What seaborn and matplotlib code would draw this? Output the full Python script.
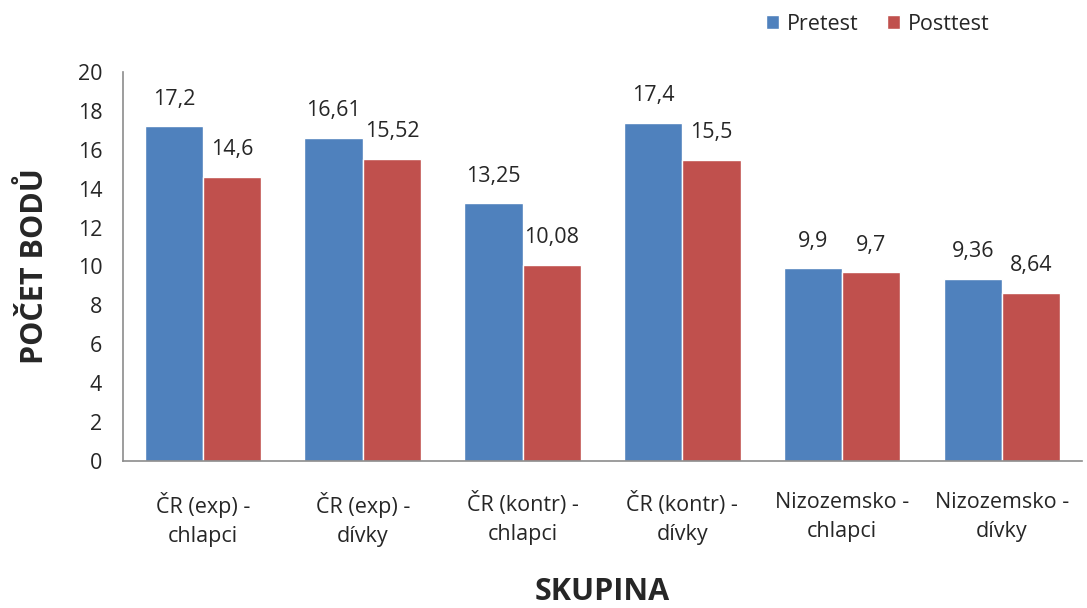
import matplotlib
matplotlib.use("Agg")
import matplotlib.pyplot as plt
import seaborn as sns
import pandas as pd

categories = ["ČR (exp) -\nchlapci", "ČR (exp) -\ndívky", "ČR (kontr) -\nchlapci",
              "ČR (kontr) -\ndívky", "Nizozemsko -\nchlapci", "Nizozemsko -\ndívky"]
pretest = [17.2, 16.61, 13.25, 17.4, 9.9, 9.36]
posttest = [14.6, 15.52, 10.08, 15.5, 9.7, 8.64]
series = ["Pretest", "Posttest"]
yticks = [0, 2, 4, 6, 8, 10, 12, 14, 16, 18, 20]

df = pd.DataFrame({
    "skupina": categories * 2,
    "test": [series[0]] * len(categories) + [series[1]] * len(categories),
    "body": pretest + posttest,
})

sns.set_theme(style="white")
plt.rcParams["font.family"] = ["Open Sans", "DejaVu Sans"]

fig = plt.figure(figsize=(10.87, 6.08), dpi=100)
ax = fig.add_axes([0.1132, 0.2418, 0.882, 0.6398])

palette = {"Pretest": "#4F81BD", "Posttest": "#C0504D"}
sns.barplot(data=df, x="skupina", y="body", hue="test", palette=palette,
            width=0.73, edgecolor="white", linewidth=1.0, ax=ax, saturation=1)

ax.set_ylim(0, 20)
ax.set_xlim(-0.5, len(categories) - 0.5)
ax.set_yticks(yticks)
ax.set_yticklabels([str(t) for t in yticks], fontsize=15.5)
ax.set_xticks(range(len(categories)))
ax.set_xticklabels(categories, fontsize=15.5, linespacing=1.5)
ax.tick_params(axis="x", length=0, pad=22)
ax.tick_params(axis="y", length=0, pad=15)

for side in ["top", "right"]:
    ax.spines[side].set_visible(False)
for side in ["left", "bottom"]:
    ax.spines[side].set_color("#8C8C8C")
    ax.spines[side].set_linewidth(1.2)

for container in ax.containers:
    labels = [f"{v:g}".replace(".", ",") for v in container.datavalues]
    ax.bar_label(container, labels=labels, fontsize=15.5, padding=12)

ax.set_xlabel("SKUPINA", fontsize=22, fontweight="bold", labelpad=22)
ax.set_ylabel("POČET BODŮ", fontsize=22, fontweight="bold", labelpad=20)

handles, labels = ax.get_legend_handles_labels()
ax.legend(handles, labels, loc="upper left", bbox_to_anchor=(0.65, 1.2),
          ncol=2, frameon=False, fontsize=15.5, handlelength=0.6, handleheight=0.6,
          handletextpad=0.4, columnspacing=1.3)

fig.savefig("out.png", dpi=100)
